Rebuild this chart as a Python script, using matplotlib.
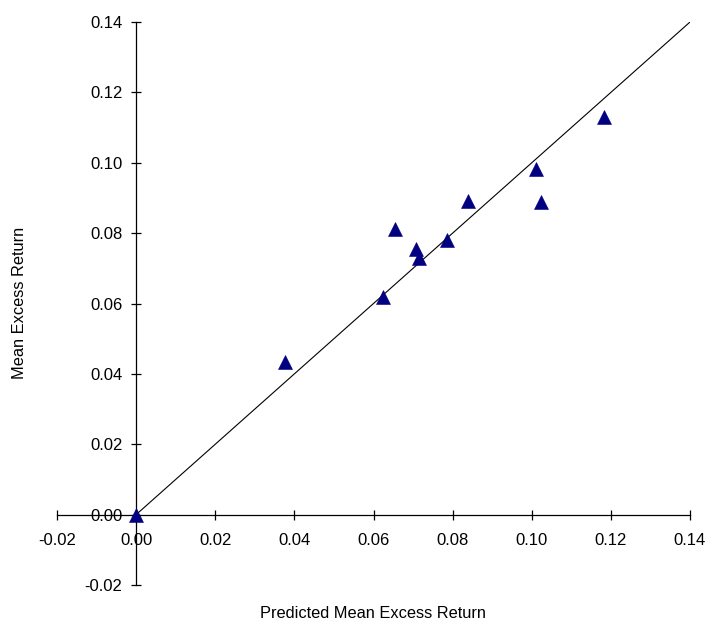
import matplotlib
matplotlib.use("Agg")
import matplotlib.pyplot as plt

predicted = [0.0, 0.0377, 0.0624, 0.0655, 0.0708, 0.0715, 0.0786, 0.0839, 0.1011, 0.1023, 0.1183]
actual    = [0.0, 0.0434, 0.0619, 0.0812, 0.0755, 0.0730, 0.0781, 0.0892, 0.0983, 0.0889, 0.1130]
line_x = [0.0, 0.14]
line_y = [0.0, 0.14]
ticks = [-0.02, 0.00, 0.02, 0.04, 0.06, 0.08, 0.10, 0.12, 0.14]

plt.rcParams['font.family'] = ['Liberation Sans', 'DejaVu Sans']
fig = plt.figure(figsize=(7.09, 6.22), dpi=100)
ax = fig.add_axes([0.0804, 0.0595, 0.8928, 0.9051])

ax.plot(line_x, line_y, color='black', linewidth=0.8, zorder=2)
ax.plot(predicted, actual, linestyle='none', marker='^', markersize=10,
        color='#000080', markeredgecolor='#000080', markeredgewidth=0.4, zorder=3, clip_on=False)

ax.set_xlim(-0.02, 0.14)
ax.set_ylim(-0.02, 0.14)
ax.set_xticks(ticks)
ax.set_yticks(ticks)
ax.set_xticklabels([f"{t:.2f}" for t in ticks])
ax.set_yticklabels([f"{t:.2f}" for t in ticks])

for s in ['top', 'right']:
    ax.spines[s].set_visible(False)
ax.spines['left'].set_position(('data', 0))
ax.spines['bottom'].set_position(('data', 0))
for s in ['left', 'bottom']:
    ax.spines[s].set_linewidth(0.9)

ax.tick_params(axis='x', direction='inout', length=7.7, width=0.9, labelsize=12, pad=9.5)
ax.tick_params(axis='y', direction='inout', length=7.7, width=0.9, labelsize=12, pad=6)

fig.text(372.5/709, 1 - 613/622, "Predicted Mean Excess Return", ha='center', va='center', fontsize=11.8)
fig.text(20/709, 1 - 302.5/622, "Mean Excess Return", ha='center', va='center', rotation=90, fontsize=11.8)

fig.savefig("out.png", dpi=100)
